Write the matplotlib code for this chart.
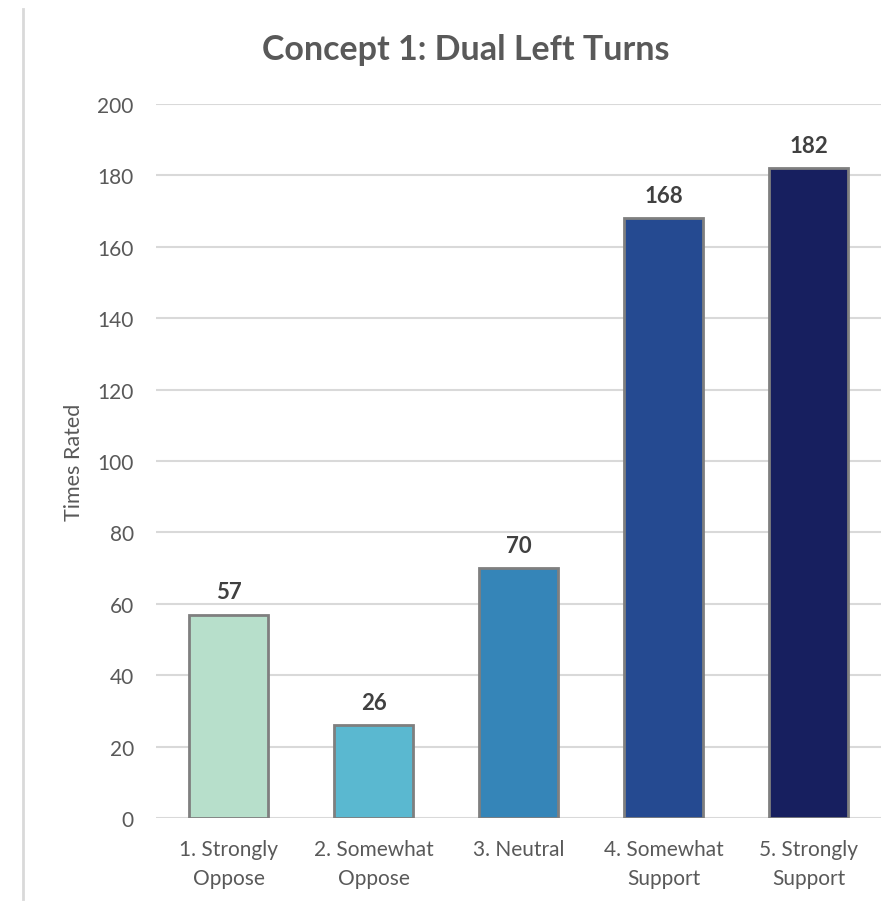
import matplotlib
matplotlib.use("Agg")
import matplotlib.pyplot as plt
from matplotlib.lines import Line2D

categories = ["1. Strongly\nOppose", "2. Somewhat\nOppose", "3. Neutral",
              "4. Somewhat\nSupport", "5. Strongly\nSupport"]
values = [57, 26, 70, 168, 182]
colors = ["#B7DFCB", "#5AB8D0", "#3585B8", "#254A91", "#171F5F"]
yticks = [0, 20, 40, 60, 80, 100, 120, 140, 160, 180, 200]

plt.rcParams['font.family'] = ['Lato', 'DejaVu Sans']

fig = plt.figure(figsize=(8.94, 9.03), dpi=100)
ax = fig.add_axes([156/894, 1-819/903, 725/894, (819-105)/903])

x = list(range(len(categories)))
bars = ax.bar(x, values, width=0.545, color=colors, edgecolor="#7F7F7F", linewidth=2, zorder=3)
for xi, v in zip(x, values):
    ax.annotate(str(v), (xi, v), xytext=(0, 9), textcoords="offset points",
                ha="center", va="bottom", fontsize=16, fontweight="bold", color="#404040")

ax.set_xlim(-0.5, len(categories) - 0.5)
ax.set_ylim(0, 200)
ax.set_yticks(yticks)
ax.set_xticks(x)
ax.set_xticklabels(categories, fontsize=15, color="#595959", linespacing=1.6)
ax.tick_params(axis="y", labelsize=15, labelcolor="#595959", length=0, pad=16)
ax.tick_params(axis="x", length=0, pad=15)
ax.grid(axis="y", color="#D9D9D9", linewidth=1.5, zorder=0)
for s in ax.spines.values():
    s.set_visible(False)
ax.set_ylabel("Times Rated", fontsize=15.5, color="#595959", labelpad=10)
fig.text(466/894, 1-50/903, "Concept 1: Dual Left Turns", fontsize=24.5, fontweight="bold",
         color="#595959", ha="center", va="center")

fig.add_artist(Line2D([23/894, 23/894], [1-10/903, 1-900/903], color="#D9D9D9", linewidth=2, transform=fig.transFigure))

fig.savefig("out.png", dpi=100, facecolor="white")
